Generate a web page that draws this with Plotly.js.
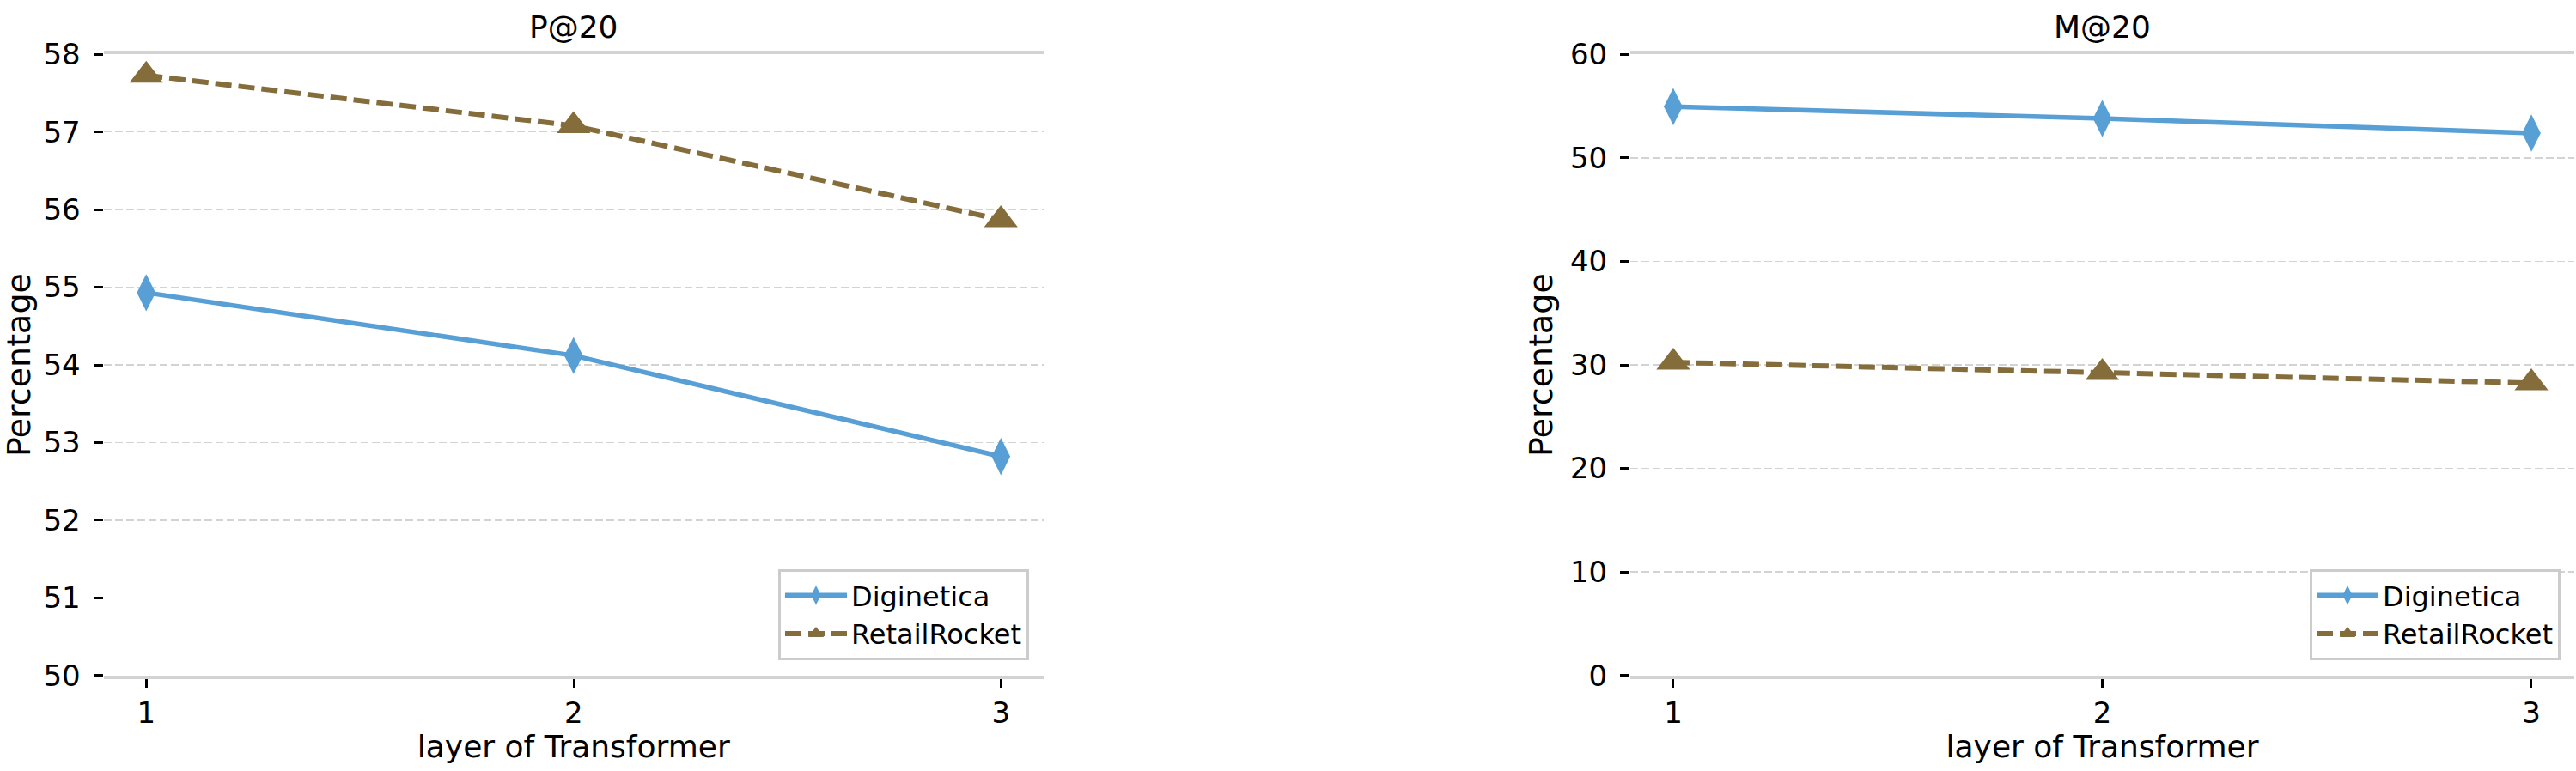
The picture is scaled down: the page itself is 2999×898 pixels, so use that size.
<!DOCTYPE html>
<html>
<head>
<meta charset="utf-8">
<script src="https://cdn.plot.ly/plotly-3.0.1.min.js"></script>
<style>html,body{margin:0;padding:0;background:#fff;}#chart{width:2999px;height:898px;}</style>
</head>
<body>
<div id="chart"></div>
<script>
// ---- data ----
const layers = [1, 2, 3];
const xTickLabels = ["1", "2", "3"];
const seriesNames = ["Diginetica", "RetailRocket"];
const pDiginetica = [54.93, 54.12, 52.82];
const pRetailRocket = [57.73, 57.08, 55.87];
const mDiginetica = [54.95, 53.8, 52.4];
const mRetailRocket = [30.25, 29.25, 28.25];
const panelTitles = ["P@20", "M@20"];
const xTitle = "layer of Transformer";
const yTitle = "Percentage";

// ---- style ----
const FONT = "DejaVu Sans, sans-serif";
const BLUE = "#579fd5";
const BROWN = "#856d3b";
const SPINE = "#d3d3d3";

function diginetica(y, xa, ya, legend) {
  return {
    x: layers, y: y, xaxis: xa, yaxis: ya, name: seriesNames[0],
    type: "scatter", mode: "lines+markers", legend: legend, showlegend: true,
    line: {color: BLUE, width: 5.5},
    marker: {symbol: "diamond-tall", size: 31, color: BLUE}
  };
}
function retail(y, xa, ya, legend) {
  return {
    x: layers, y: y, xaxis: xa, yaxis: ya, name: seriesNames[1],
    type: "scatter", mode: "lines+markers", legend: legend, showlegend: true,
    line: {color: BROWN, width: 6, dash: "19px,8px"},
    marker: {symbol: "triangle-up", size: 34, color: BROWN}
  };
}

const data = [
  diginetica(pDiginetica, "x", "y", "legend"),
  retail(pRetailRocket, "x", "y", "legend"),
  diginetica(mDiginetica, "x2", "y2", "legend2"),
  retail(mRetailRocket, "x2", "y2", "legend2")
];

function xAxis(domain, anchor) {
  return {
    domain: domain, anchor: anchor, range: [0.9, 3.1],
    tickvals: layers, ticktext: xTickLabels,
    ticks: "outside", ticklen: 10, tickwidth: 2.5, tickcolor: "#000",
    showline: true, mirror: true, linecolor: SPINE, linewidth: 4,
    showgrid: false, zeroline: false,
    tickfont: {family: FONT, size: 34, color: "#000"},
    title: {text: xTitle, font: {family: FONT, size: 36, color: "#000"}, standoff: 8}
  };
}
function yAxis(domain, anchor, range, dtick) {
  return {
    domain: domain, anchor: anchor, range: range, dtick: dtick,
    ticks: "outside", ticklen: 11, tickwidth: 3, tickcolor: "#000",
    ticklabelstandoff: 8,
    showline: false, zeroline: false,
    showgrid: true, gridcolor: SPINE, gridwidth: 1.5, griddash: "9px,4px",
    tickfont: {family: FONT, size: 34, color: "#000"},
    title: {text: yTitle, font: {family: FONT, size: 38, color: "#000"}, standoff: 8}
  };
}

const W = 2999, H = 898;
const yDom = [1 - 786.7 / H, 1 - 63.3 / H];
const x1Dom = [120.5 / W, 1215 / W];
const x2Dom = [1898 / W, 2997 / W];

const legendStyle = {
  bgcolor: "#fff", bordercolor: "#cccccc", borderwidth: 3,
  font: {family: FONT, size: 32, color: "#000"},
  xanchor: "right", yanchor: "bottom", itemwidth: 72
};

const layout = {
  width: W, height: H,
  margin: {l: 0, r: 0, t: 0, b: 0},
  paper_bgcolor: "#fff", plot_bgcolor: "#fff",
  font: {family: FONT, color: "#000"},
  xaxis: xAxis(x1Dom, "y"),
  yaxis: yAxis(yDom, "x", [50, 58], 1),
  xaxis2: xAxis(x2Dom, "y2"),
  yaxis2: yAxis(yDom, "x2", [0, 60], 10),
  legend: Object.assign({x: 1198 / W, y: 1 - 769 / H}, legendStyle),
  legend2: Object.assign({x: 2981 / W, y: 1 - 769 / H}, legendStyle),
  annotations: [
    {text: panelTitles[0], xref: "paper", yref: "paper", x: (x1Dom[0] + x1Dom[1]) / 2, y: 1 - 31.7 / H,
     xanchor: "center", yanchor: "middle", showarrow: false, font: {family: FONT, size: 36, color: "#000"}},
    {text: panelTitles[1], xref: "paper", yref: "paper", x: (x2Dom[0] + x2Dom[1]) / 2, y: 1 - 31.7 / H,
     xanchor: "center", yanchor: "middle", showarrow: false, font: {family: FONT, size: 36, color: "#000"}}
  ]
};

Plotly.newPlot("chart", data, layout, {staticPlot: true, displayModeBar: false});
</script>
</body>
</html>
